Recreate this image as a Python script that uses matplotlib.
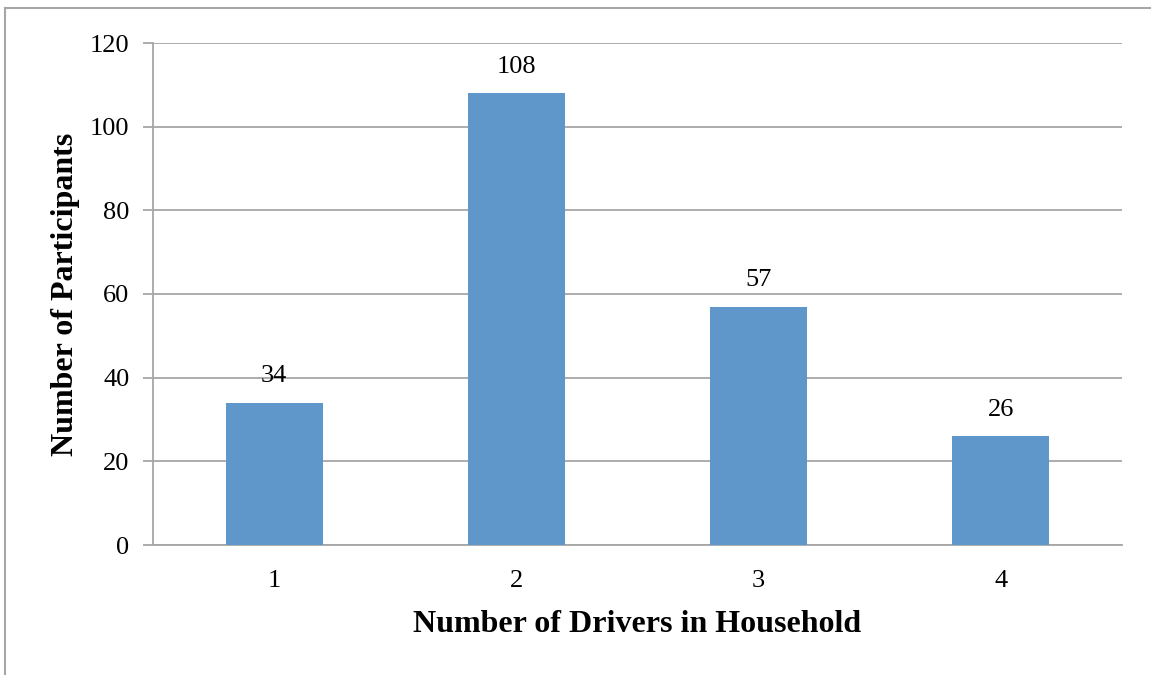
import matplotlib
matplotlib.use("Agg")
import matplotlib.pyplot as plt
from matplotlib.lines import Line2D

categories = ["1", "2", "3", "4"]
values = [34, 108, 57, 26]
yticks = [0, 20, 40, 60, 80, 100, 120]

plt.rcParams['font.family'] = ['Liberation Serif', 'DejaVu Serif']

W, H = 1151, 675
L, R, T, B = 153, 1122, 43, 545
fig = plt.figure(figsize=(W / 100, H / 100), dpi=100)
ax = fig.add_axes([L / W, 1 - B / H, (R - L) / W, (B - T) / H])

x = list(range(len(categories)))
ax.bar(x, values, width=0.4, color="#6097CB", zorder=3)
ax.set_xlim(-0.5, len(categories) - 0.5)
ax.set_ylim(0, 120)
ax.set_yticks(yticks)
ax.set_xticks(x)
ax.set_xticklabels(categories)
ax.yaxis.grid(True, color="#A6A6A6", linewidth=1.3, zorder=0)

for s in ["top", "right"]:
    ax.spines[s].set_visible(False)
for s in ["left", "bottom"]:
    ax.spines[s].set_color("#A6A6A6")
    ax.spines[s].set_linewidth(1.3)

ax.tick_params(axis="y", length=7, width=1.3, color="#A6A6A6", labelsize=19, pad=10)
ax.tick_params(axis="x", length=0, labelsize=19, pad=18)

for xi, v in zip(x, values):
    ax.annotate(str(v), (xi, v), xytext=(0, 11), textcoords="offset points",
                ha="center", va="bottom", fontsize=19)

ax.set_xlabel("Number of Drivers in Household", fontsize=23, fontweight="bold")
ax.set_ylabel("Number of Participants", fontsize=23, fontweight="bold")
ax.xaxis.label.set_va("center")
ax.yaxis.label.set_va("center")
ax.xaxis.set_label_coords(0.5, -(625 - B) / (B - T))
ax.yaxis.set_label_coords(-(L - 66) / (R - L), 0.5)

# outer chart border (left and top)
fig.add_artist(Line2D([4.5 / W, 4.5 / W], [0, 1 - 7.5 / H], transform=fig.transFigure,
                      color="#A6A6A6", linewidth=1.5))
fig.add_artist(Line2D([4.5 / W, 1], [1 - 7.5 / H, 1 - 7.5 / H], transform=fig.transFigure,
                      color="#A6A6A6", linewidth=1.5))

fig.savefig("out.png", dpi=100)
